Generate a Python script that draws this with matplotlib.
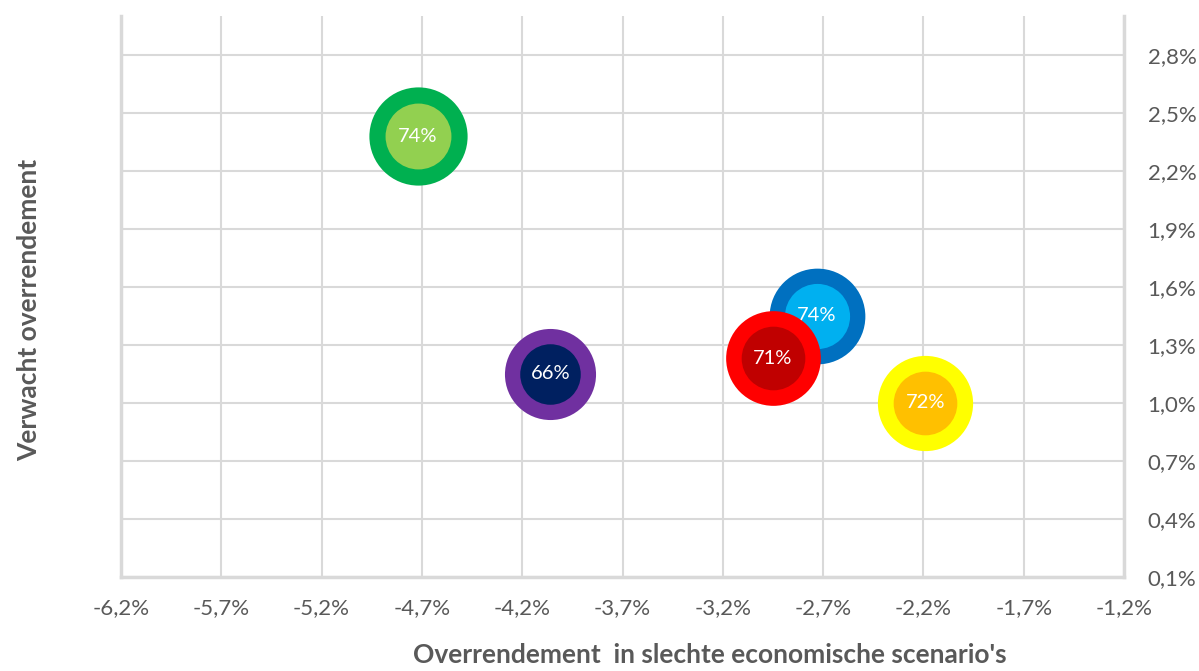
import numpy as np
import matplotlib
matplotlib.use("Agg")
import matplotlib.pyplot as plt
from matplotlib.ticker import FixedLocator, FuncFormatter

plt.rcParams['font.family'] = ['Lato', 'DejaVu Sans']

# data (values in %)
labels = ['74%', '66%', '74%', '71%', '72%']
x_vals = [-4.72, -4.06, -2.73, -2.95, -2.19]
y_vals = [2.38, 1.15, 1.45, 1.23, 1.00]
outer_sizes = [5000, 4300, 4750, 4650, 4700]
inner_sizes = [2250, 1900, 2200, 2100, 2100]
outer_colors = ['#00B050', '#7030A0', '#0070C0', '#FF0000', '#FFFF00']
inner_colors = ['#92D050', '#002060', '#00B0F0', '#C00000', '#FFC000']

x_ticks = np.round(np.arange(-6.2, -1.19, 0.5), 1)
y_ticks = np.round(np.arange(0.1, 2.81, 0.3), 1)

fig = plt.figure(figsize=(11.99, 6.71), dpi=100)
ax = fig.add_axes([0.1009, 0.140, 0.8366, 0.836])

grid_c = '#D9D9D9'
txt_c = '#595959'

for i in range(len(labels)):
    ax.scatter(x_vals[i], y_vals[i], s=outer_sizes[i], color=outer_colors[i],
               linewidths=0, zorder=3 + 2 * i)
    ax.scatter(x_vals[i], y_vals[i], s=inner_sizes[i], color=inner_colors[i],
               linewidths=0, zorder=4 + 2 * i)
    ax.text(x_vals[i], y_vals[i], labels[i], ha='center', va='center',
            color='white', fontsize=14.5, zorder=4 + 2 * i)

ax.set_xlim(-6.2, -1.2)
ax.set_ylim(0.1, 3.0)
ax.xaxis.set_major_locator(FixedLocator(x_ticks))
ax.yaxis.set_major_locator(FixedLocator(y_ticks))
fmt = FuncFormatter(lambda v, p: ('%.1f%%' % v).replace('.', ','))
ax.xaxis.set_major_formatter(fmt)
ax.yaxis.set_major_formatter(fmt)
ax.yaxis.tick_right()

ax.grid(True, color=grid_c, linewidth=1.5, zorder=0)
ax.set_axisbelow(True)
for side in ['left', 'bottom', 'right']:
    ax.spines[side].set_color(grid_c)
    ax.spines[side].set_linewidth(2.5)
ax.spines['top'].set_visible(False)

ax.tick_params(axis='both', length=0, labelsize=16, labelcolor=txt_c)
ax.tick_params(axis='x', pad=15)
ax.tick_params(axis='y', pad=17)

fig.text(0.592, 0.006, "Overrendement  in slechte economische scenario's",
         ha='center', va='bottom', fontsize=19, fontweight='bold', color=txt_c)
fig.text(0.024, 0.538, 'Verwacht overrendement', rotation=90, ha='center',
         va='center', fontsize=19, fontweight='bold', color=txt_c)

fig.savefig('out.png', dpi=100)
